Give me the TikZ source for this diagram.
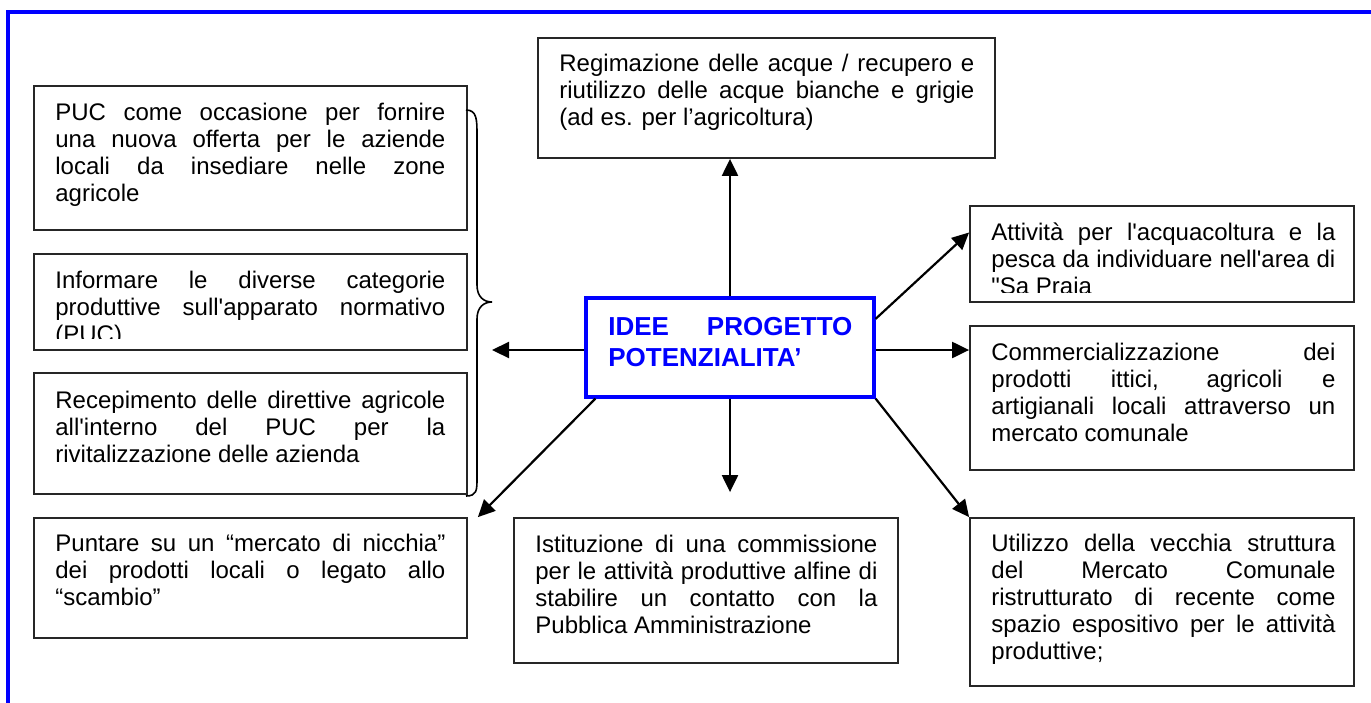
\documentclass[tikz,border=0pt]{standalone}
\usepackage{fontspec}
\setmainfont{Liberation Sans}
\usetikzlibrary{arrows.meta,fit,calc}
\newcommand{\sq}{\textquotesingle}

\begin{document}
\begin{tikzpicture}[x=0.5pt, y=-0.5pt,
  card/.style={draw=black!85, line width=0.9pt, inner sep=0pt},
  hub/.style={draw=blue, line width=1.6pt, inner sep=0pt},
  txt/.style={anchor=base west, inner sep=0pt, align=justify, font=\fontsize{12pt}{13.5pt}\selectfont},
  arrow/.style={-{Triangle[length=8.5pt, width=8pt]}, line width=1.1pt}
]
\useasboundingbox (0,0) rectangle (1371,702);

% Blue frame
\draw[blue, line width=2.2pt] (1375,12) -- (8,12) -- (8,706);

% Left column
\node[card, fit={(34,86) (467,230)}] (puc) {};
\node[txt, text width=195pt] (puctxt) at (55,120) {PUC come occasione per fornire\linebreak una nuova offerta per le aziende\linebreak locali da insediare nelle zone\linebreak agricole};

\node[card, fit={(34,254) (467,350)}] (info) {};
\begin{scope}
  \clip (34,254) rectangle (467,338);
  \node[txt, text width=195pt] (infotxt) at (55,288.3) {Informare le diverse categorie\linebreak produttive sull\sq apparato normativo\linebreak (PUC)};
\end{scope}

\node[card, fit={(34,373) (467,494)}] (recep) {};
\node[txt, text width=195pt] (receptxt) at (55,408.3) {Recepimento delle direttive agricole\linebreak all\sq interno del PUC per la\linebreak rivitalizzazione delle azienda};

\node[card, fit={(34,518) (467,638)}] (punt) {};
\node[txt, text width=195pt] (punttxt) at (55,551.7) {Puntare su un “mercato di nicchia”\linebreak dei prodotti locali o legato allo\linebreak “scambio”};

% Brace
\draw[line width=0.8pt] (466,110) .. controls (477,110) and (477,120) .. (477,135) -- (477,285)
  .. controls (477,297) and (484,302) .. (492,302) .. controls (484,302) and (477,307) .. (477,319)
  -- (477,478) .. controls (477,490) and (477,496) .. (466,496);

% Top and centre
\node[card, fit={(538,38) (995,158)}] (regim) {};
\node[txt, text width=207.5pt] (regimtxt) at (559,71.7) {Regimazione delle acque / recupero e\linebreak riutilizzo delle acque bianche e grigie\linebreak (ad es. per l'agricoltura)};

\node[hub, fit={(586,298) (874,397)}] (idee) {};
\node[txt, text width=122pt, text=blue, font=\bfseries\fontsize{13pt}{15.5pt}\selectfont] (ideetxt) at (608,335) {IDEE PROGETTO\linebreak POTENZIALITA'};

\node[card, fit={(514,518) (898,663)}] (istit) {};
\node[txt, text width=171pt] (istittxt) at (535,552.3) {Istituzione di una commissione\linebreak per le attività produttive alfine di\linebreak stabilire un contatto con la\linebreak Pubblica Amministrazione};

% Right column
\node[card, fit={(970,206) (1354,302)}] (attiv) {};
\begin{scope}
  \clip (970,206) rectangle (1354,292);
  \node[txt, text width=172pt] (attivtxt) at (991,240) {Attività per l\sq acquacoltura e la\linebreak pesca da individuare nell\sq area di\linebreak \textquotedbl Sa Praia};
\end{scope}

\node[card, fit={(970,326) (1354,470)}] (comm) {};
\node[txt, text width=172pt] (commtxt) at (991,360) {Commercializzazione dei\linebreak prodotti ittici, agricoli e\linebreak artigianali locali attraverso un\linebreak mercato comunale};

\node[card, fit={(970,518) (1354,686)}] (util) {};
\node[txt, text width=172pt] (utiltxt) at (991,551.7) {Utilizzo della vecchia struttura\linebreak del Mercato Comunale\linebreak ristrutturato di recente come\linebreak spazio espositivo per le attività\linebreak produttive;};

% Arrows
\coordinate (lefttip) at (492,350);
\draw[arrow] (idee.north) -- (idee.north |- regim.south);
\draw[arrow, shorten >=12.5pt] (idee.south) -- (idee.south |- istit.north);
\draw[arrow] (idee.west |- lefttip) -- (lefttip);
\draw[arrow] (idee.east |- lefttip) -- (comm.west |- lefttip);
\draw[arrow] ($(idee.north east)!0.22!(idee.south east)$) -- ($(attiv.north west)!0.28!(attiv.south west)$);
\draw[arrow] (idee.south east) -- (util.north west);
\draw[arrow] ([xshift=5.5pt]idee.south west) -- ([xshift=5pt]punt.north east);

\end{tikzpicture}
\end{document}
